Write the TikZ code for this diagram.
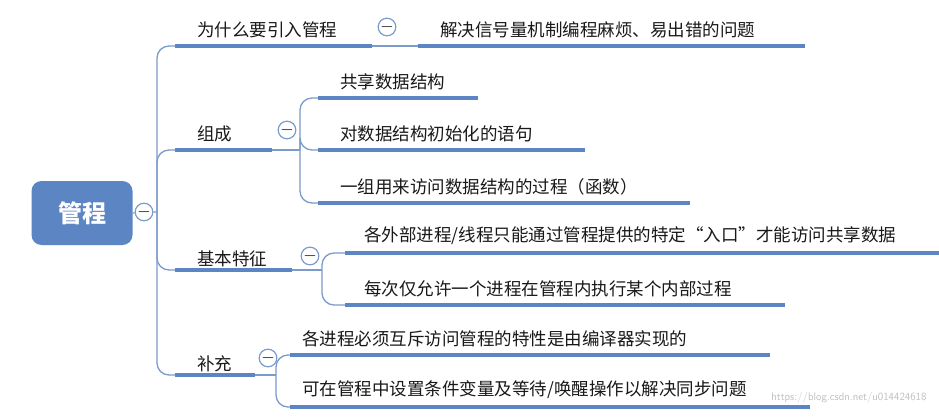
\documentclass[tikz,border=0pt]{standalone}
\usepackage{fontspec}
\newfontfamily\cjk{Noto Sans CJK SC}
\usetikzlibrary{positioning}
\definecolor{mmblue}{HTML}{5B86C3}
\definecolor{mmline}{HTML}{7A9BCB}
\begin{document}
\begin{tikzpicture}[x=1pt,y=-1pt,font=\cjk\fontsize{17.5}{20}\selectfont]
    \tikzstyle{bar}=[draw=mmblue,line width=4pt]
    \tikzstyle{link}=[draw=mmline,line width=1.3pt,rounded corners=12pt]
    \tikzstyle{fold}=[circle,draw=mmline,line width=1.2pt,fill=white,minimum size=15pt,inner sep=0pt]
    \tikzstyle{lbl}=[anchor=south west,inner sep=0pt,text=black!90]
    \fill[white] (0,0) rectangle (939,417);
    \useasboundingbox (0,0) rectangle (939,417);

    % root
    \node[fill=mmblue,rounded corners=10pt,minimum width=101pt,minimum height=64pt,text=white,
      font=\cjk\bfseries\fontsize{24}{28}\selectfont] (root) at (82,213) {管程};
    \node[fold] (f0) at (144,212) {$-$};
    \coordinate (trunk) at (157,212);
    \draw[link] (root.east) -- (f0) -- (trunk);

    % first level bars
    \foreach \name/\y/\xe in {why/46/372,comp/150/272,feat/270/292,supp/375/255}{
      \coordinate (\name-s) at (175,\y);
      \coordinate (\name-e) at (\xe,\y);
      \draw[link] (trunk) |- (\name-s);
      \draw[bar] (\name-s) -- (\name-e);
    }
    \node[lbl] at (197,38) {为什么要引入管程};
    \node[lbl] at (197,142) {组成};
    \node[lbl] at (197,267) {基本特征};
    \node[lbl] at (197,372) {补充};
    \node[fold] (f1) at (387,27) {$-$};
    \node[fold] (f2) at (287,130) {$-$};
    \node[fold] (f3) at (310,256) {$-$};
    \node[fold] (f4) at (268,358) {$-$};

    % why
    \coordinate (why1-s) at (418,46);
    \draw[link] (why-e) -- (why1-s);
    \draw[bar] (why1-s) -- (805,46);
    \node[lbl] at (440,38) {解决信号量机制编程麻烦、易出错的问题};

    % composition
    \coordinate (comp-b) at (300,150);
    \draw[link] (comp-e) -- (comp-b);
    \foreach \n/\y/\xe/\t in {1/98/478/{共享数据结构},2/150/585/{对数据结构初始化的语句},
      3/203/690/{一组用来访问数据结构的过程（函数）}}{
      \coordinate (comp\n-s) at (318,\y);
      \draw[link] (comp-b) |- (comp\n-s);
      \draw[bar] (comp\n-s) -- (\xe,\y);
      \node[lbl] at (340,\y-8) {\t};
    }

    % features
    \coordinate (feat-b) at (322,270);
    \draw[link] (feat-e) -- (feat-b);
    \foreach \n/\y/\xe/\t in {1/253/940/{各外部进程/线程只能通过管程提供的特定“入口”才能访问共享数据},
      2/305/785/{每次仅允许一个进程在管程内执行某个内部过程}}{
      \coordinate (feat\n-s) at (345,\y);
      \draw[link] (feat-b) |- (feat\n-s);
      \draw[bar] (feat\n-s) -- (\xe,\y);
      \node[lbl] at (364,\y-8) {\t};
    }

    % supplement
    \coordinate (supp-b) at (276,375);
    \draw[link] (supp-e) -- (supp-b);
    \foreach \n/\y/\xe/\t in {1/355/770/{各进程必须互斥访问管程的特性是由编译器实现的},
      2/407/810/{可在管程中设置条件变量及等待/唤醒操作以解决同步问题}}{
      \coordinate (supp\n-s) at (290,\y);
      \draw[link] (supp-b) |- (supp\n-s);
      \draw[bar] (supp\n-s) -- (\xe,\y);
      \node[lbl] at (302,\y-8) {\t};
    }

    \node[anchor=east,text=black!25,font=\sffamily\fontsize{11}{13}\selectfont] (mark) at (930,398) {https://blog.csdn.net/u014424618};
  \end{tikzpicture}
\end{document}
